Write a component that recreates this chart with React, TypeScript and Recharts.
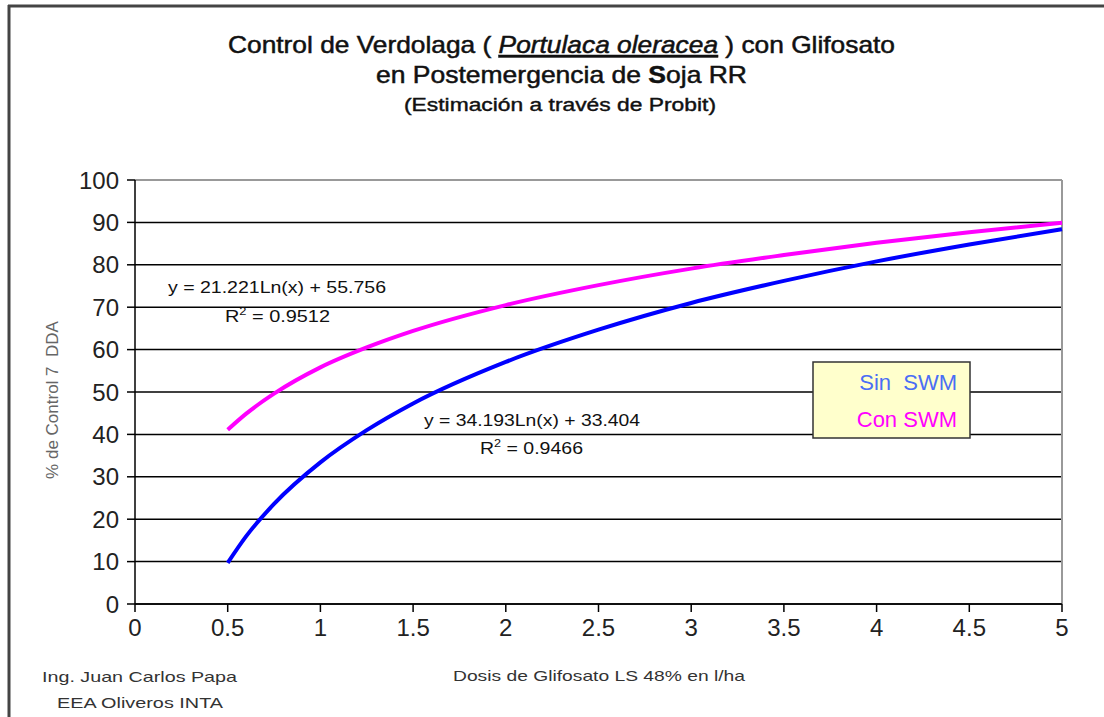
import { LineChart, Line, XAxis, YAxis, CartesianGrid, ReferenceLine } from "recharts";

// dosis (l/ha)
const doses = [0.5, 0.6, 0.75, 1, 1.25, 1.5, 2, 2.5, 3, 3.5, 4, 4.5, 5];
const sinSwm = [9.7, 16.0, 23.6, 33.4, 41.0, 47.3, 57.1, 64.7, 71.0, 76.2, 80.8, 84.8, 88.4];
const conSwm = [41.1, 44.9, 49.6, 55.8, 60.5, 64.4, 70.5, 75.2, 79.1, 82.3, 85.2, 87.7, 89.9];

const xTicks = [0, 0.5, 1, 1.5, 2, 2.5, 3, 3.5, 4, 4.5, 5];
const yTicks = [0, 10, 20, 30, 40, 50, 60, 70, 80, 90, 100];

const data = doses.map((d, i) => ({ dosis: d, sin: sinSwm[i], con: conSwm[i] }));

const font = "'Liberation Sans', Arial, sans-serif";

export default function App() {
    return (
        <div style={{ position: "absolute", left: 0, top: 0, width: 1104, height: 717, background: "#fff", fontFamily: font }}>
            <LineChart
                width={1104}
                height={717}
                data={data}
                margin={{ top: 180, right: 42, left: 0, bottom: 73 }}
            >
                <CartesianGrid vertical={false} stroke="#000" strokeWidth={1.5} />
                <XAxis
                    dataKey="dosis"
                    type="number"
                    domain={[0, 5]}
                    ticks={xTicks}
                    height={40}
                    stroke="#000"
                    strokeWidth={1.5}
                    tickSize={8}
                    tickMargin={7}
                    tick={{ fill: "#222", fontSize: 24, fontFamily: font }}
                />
                <YAxis
                    domain={[0, 100]}
                    ticks={yTicks}
                    width={135}
                    stroke="#000"
                    strokeWidth={1.5}
                    tickSize={8}
                    tickMargin={8}
                    tick={{ fill: "#222", fontSize: 24, fontFamily: font }}
                />
                <ReferenceLine y={100} stroke="#999" strokeWidth={2} />
                <ReferenceLine x={5} stroke="#999" strokeWidth={2} />
                <Line type="monotone" dataKey="sin" stroke="#0000ff" strokeWidth={4} dot={false} isAnimationActive={false} />
                <Line type="monotone" dataKey="con" stroke="#ff00ff" strokeWidth={4} dot={false} isAnimationActive={false} />
            </LineChart>

            <svg width={1104} height={717} style={{ position: "absolute", left: 0, top: 0, pointerEvents: "none" }}>
                {/* outer frame */}
                <line x1={8} y1={6} x2={1104} y2={6} stroke="#444" strokeWidth={3} />
                <line x1={9} y1={5} x2={9} y2={717} stroke="#444" strokeWidth={3} />

                <g fill="#111">
                    <text x={228} y={53} fontSize={24} textLength={667} lengthAdjust="spacingAndGlyphs" stroke="#111" strokeWidth={0.5}>
                        Control de Verdolaga ( <tspan fontStyle="italic" textDecoration="underline">Portulaca oleracea</tspan> )  con Glifosato
                    </text>
                    <text x={376} y={83} fontSize={24} textLength={371} lengthAdjust="spacingAndGlyphs" stroke="#111" strokeWidth={0.5}>
                        en Postemergencia de <tspan fontWeight="bold">S</tspan>oja RR
                    </text>
                    <text x={404} y={111} fontSize={18} textLength={312} lengthAdjust="spacingAndGlyphs" stroke="#111" strokeWidth={0.4}>
                        (Estimación a través de Probit)
                    </text>
                </g>

                <text x={168} y={293} fontSize={16} fill="#111" textLength={218} lengthAdjust="spacingAndGlyphs">y = 21.221Ln(x) + 55.756</text>
                <text x={225} y={322} fontSize={17} fill="#111" textLength={105} lengthAdjust="spacingAndGlyphs">R<tspan dy={-7} fontSize={11}>2</tspan><tspan dy={7} fontSize={17}> = 0.9512</tspan></text>
                <text x={424} y={426} fontSize={16} fill="#111" textLength={216} lengthAdjust="spacingAndGlyphs">y = 34.193Ln(x) + 33.404</text>
                <text x={480} y={454} fontSize={17} fill="#111" textLength={103} lengthAdjust="spacingAndGlyphs">R<tspan dy={-7} fontSize={11}>2</tspan><tspan dy={7} fontSize={17}> = 0.9466</tspan></text>

                {/* legend */}
                <rect x={813} y={362} width={157} height={76} fill="#ffffcc" stroke="#333" strokeWidth={1.5} />
                <text x={957} y={390} fontSize={22} fill="#4a6ef5" textAnchor="end" xmlSpace="preserve">Sin  SWM</text>
                <text x={957} y={427} fontSize={22} fill="#ff00ff" textAnchor="end">Con SWM</text>

                <text transform="translate(58,400) rotate(-90)" fontSize={17} fill="#666" textAnchor="middle" xmlSpace="preserve">% de Control 7  DDA</text>
                <text x={453} y={681} fontSize={15} fill="#333" textLength={292} lengthAdjust="spacingAndGlyphs">Dosis de Glifosato LS 48% en l/ha</text>
                <text x={42} y={682} fontSize={15} fill="#333" textLength={195} lengthAdjust="spacingAndGlyphs">Ing. Juan Carlos Papa</text>
                <text x={57} y={708} fontSize={15} fill="#333" textLength={166} lengthAdjust="spacingAndGlyphs">EEA Oliveros INTA</text>
            </svg>
        </div>
    );
}
